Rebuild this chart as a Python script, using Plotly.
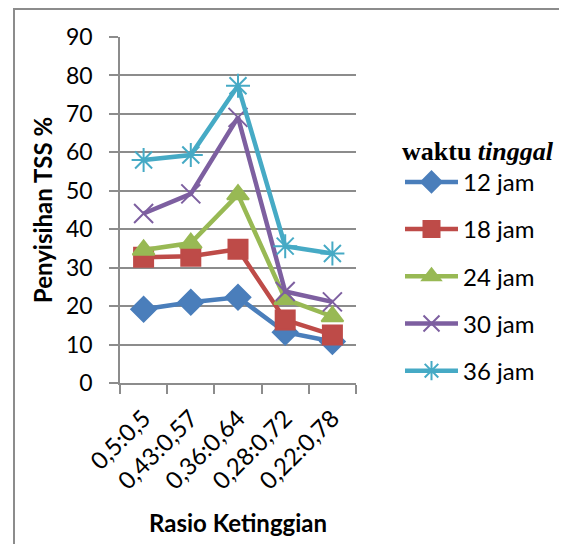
import plotly.graph_objects as go

categories = ["0,5:0,5", "0,43:0,57", "0,36:0,64", "0,28:0,72", "0,22:0,78"]
jam12 = [19.2, 21.0, 22.3, 13.2, 10.8]
jam18 = [32.7, 33.0, 34.8, 16.4, 12.5]
jam24 = [34.6, 36.4, 49.0, 21.8, 17.3]
jam30 = [44.1, 49.2, 69.1, 23.8, 21.1]
jam36 = [58.0, 59.3, 77.3, 35.6, 33.7]
series_names = ["12 jam", "18 jam", "24 jam", "30 jam", "36 jam"]
y_ticks = [0, 10, 20, 30, 40, 50, 60, 70, 80, 90]

colors = ["#4A7EBB", "#BE4B48", "#98B954", "#7D5FA0", "#46AAC5"]
symbols = ["diamond", "square", "triangle-up", "x-thin-open", "asterisk-open"]
sizes = [19, 19, 19, 19, 20]

# page is offset by the 8px body margin; work in page pixels and convert
OFF = 8
W, H = 567, 544
PL, PR, PT, PB = 120, 356, 37, 383  # plot area in page pixels
L = PL - OFF
T = PT - OFF
R = W - (PR - OFF)
B = H - (PB - OFF)
pw, ph = PR - PL, PB - PT

fig = go.Figure()
for i, (name, vals) in enumerate(zip(series_names, [jam12, jam18, jam24, jam30, jam36])):
    fig.add_trace(go.Scatter(
        x=categories, y=vals, name=name, mode="lines+markers",
        legendgroup=name,
        line=dict(color=colors[i], width=4.5),
        marker=dict(symbol=symbols[i], size=sizes[i], color=colors[i],
                    line=dict(color=colors[i], width=2)),
    ))

def px_x(x):
    return (x - PL) / pw

def px_y(y):
    return (PB - y) / ph

fig.update_layout(
    width=W, height=H,
    margin=dict(l=L, r=R, t=T, b=B),
    paper_bgcolor="white", plot_bgcolor="white",
    font=dict(family="Lato, Open Sans, sans-serif", size=23, color="#000000"),
    showlegend=True,
    legend=dict(
        x=px_x(400), y=px_y(126), xanchor="left", yanchor="top",
        title=dict(text="<b>waktu <i>tinggal</i></b>",
                   font=dict(family="Liberation Serif, serif", size=26)),
        font=dict(family="Lato, Open Sans, sans-serif", size=24),
        tracegroupgap=13, itemwidth=53, bgcolor="rgba(0,0,0,0)",
    ),
    xaxis=dict(
        type="category", range=[-0.5, 4.5], automargin=False,
        showline=True, linecolor="#8C8C8C", linewidth=1.5,
        ticks="outside", tickson="boundaries", ticklen=9, tickcolor="#8C8C8C", tickwidth=1.5,
        ticklabelstandoff=10,
        tickangle=-45, tickfont=dict(size=24),
        showgrid=False,
        title=dict(text="<b>Rasio Ketinggian</b>", font=dict(size=24), standoff=22),
    ),
    yaxis=dict(
        range=[0, 90], tickvals=y_ticks, automargin=False,
        showline=True, linecolor="#8C8C8C", linewidth=1.5,
        ticks="outside", ticklen=9, tickcolor="#8C8C8C", tickwidth=1.5,
        ticklabelstandoff=12,
        showgrid=True, gridcolor="#8C8C8C", gridwidth=1.5,
        zeroline=False,
        tickfont=dict(size=23),
        title=dict(text="<b>Penyisihan TSS %</b>", font=dict(size=24), standoff=7),
    ),
    shapes=[dict(type="rect", xref="paper", yref="paper",
                 x0=px_x(14), x1=px_x(565), y0=px_y(580), y1=px_y(9),
                 line=dict(color="#8C8C8C", width=2), fillcolor="rgba(0,0,0,0)", layer="below")],
    annotations=[dict(text="<i>tinggal.</i>", xref="paper", yref="paper",
                      x=px_x(18), y=px_y(6), xanchor="left", yanchor="bottom",
                      showarrow=False,
                      font=dict(family="Liberation Serif, serif", size=26, color="#000000"))],
)

fig.write_html("out.html")
